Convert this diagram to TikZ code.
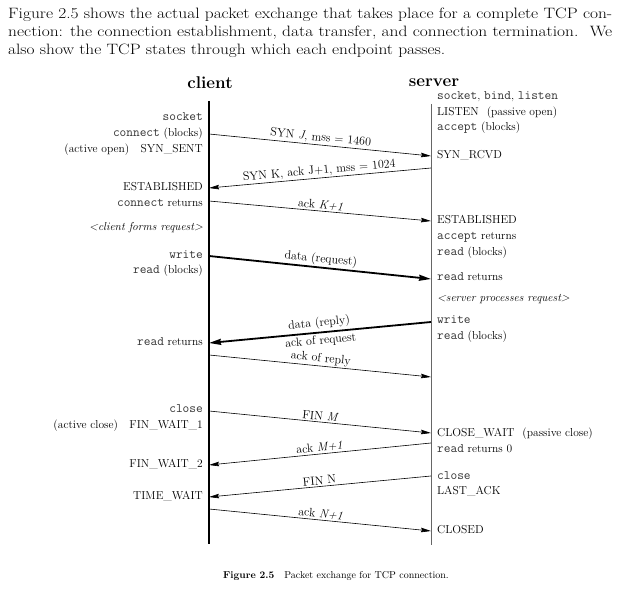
\documentclass[tikz,border=0pt]{standalone}
\usepackage{fontspec}
\usepackage{graphicx}
\usetikzlibrary{arrows.meta}
\newcommand\mono[1]{{\fontsize{13}{13}\selectfont\ttfamily\color{black!80}#1}}
\tikzset{
  para/.style={font=\fontsize{15}{18}\selectfont, inner sep=0pt, anchor=base west},
  head/.style={font=\fontsize{17}{18}\selectfont\bfseries, inner sep=0pt},
  lbl/.style={font=\fontsize{11.5}{13}\selectfont, inner sep=0pt},
  cl/.style={lbl, anchor=mid east},
  sv/.style={lbl, anchor=mid west},
  cline/.style={line width=1.4pt, black},
  sline/.style={line width=1pt, black!60},
  msg/.style={-{Stealth[length=10pt,width=4.5pt,inset=1pt]}, line width=0.6pt},
  bigmsg/.style={-{Stealth[length=12pt,width=6pt,inset=1pt]}, line width=1.8pt},
  alab/.style={font=\fontsize{12}{13}\selectfont, sloped, pos=0.5, inner sep=1.5pt},
  captext/.style={font=\fontsize{10}{12}\selectfont, inner sep=0pt}
}
\begin{document}
\begin{tikzpicture}[x=1pt,y=-1pt]
\useasboundingbox (0,0) rectangle (625,599);
% paragraph
\node[para] (p1) at (8,19) {\resizebox{604pt}{\height}{Figure 2.5 shows the actual packet exchange that takes place for a complete TCP con-}};
\node[para] (p2) at (8,37) {\resizebox{604pt}{\height}{nection: the connection establishment, data transfer, and connection termination.\hspace{0.25em} We}};
\node[para] (p3) at (8,55) {\resizebox{437pt}{\height}{also show the TCP states through which each endpoint passes.}};
% headers
\node[head] (client) at (210,83) {client};
\node[head] (server) at (434,83) {server};
% lifelines
\coordinate (ctop) at (209,101);
\coordinate (cbot) at (209,544);
\coordinate (stop) at (431,104);
\coordinate (sbot) at (431,545);
\draw[cline] (ctop) -- (cbot);
\draw[sline] (stop) -- (sbot);
% client labels
\node[cl] (c1) at (203,118) {\mono{socket}};
\node[cl] (c2) at (203,134) {\mono{connect} (blocks)};
\node[cl] (c3) at (203,150) {(active open)\hspace{1em}SYN\_SENT};
\node[cl] (c4) at (203,188) {ESTABLISHED};
\node[cl] (c5) at (203,204) {\mono{connect} returns};
\node[cl] (c6) at (203,228) {\textit{<client forms request>}};
\node[cl] (c7) at (203,256) {\mono{write}};
\node[cl] (c8) at (203,271) {\mono{read} (blocks)};
\node[cl] (c9) at (203,343) {\mono{read} returns};
\node[cl] (c10) at (203,410) {\mono{close}};
\node[cl] (c11) at (203,426) {(active close)\hspace{1em}FIN\_WAIT\_1};
\node[cl] (c12) at (203,465) {FIN\_WAIT\_2};
\node[cl] (c13) at (203,497) {TIME\_WAIT};
% server labels
\node[sv] (s1) at (437,97) {\mono{socket}, \mono{bind}, \mono{listen}};
\node[sv] (s2) at (437,113) {LISTEN\hspace{0.7em}(passive open)};
\node[sv] (s3) at (437,128) {\mono{accept} (blocks)};
\node[sv] (s4) at (437,156) {SYN\_RCVD};
\node[sv] (s5) at (437,221) {ESTABLISHED};
\node[sv] (s6) at (437,237) {\mono{accept} returns};
\node[sv] (s7) at (437,253) {\mono{read} (blocks)};
\node[sv] (s8) at (437,278) {\mono{read} returns};
\node[sv] (s9) at (437,299) {\textit{<server processes request>}};
\node[sv] (s10) at (437,321) {\mono{write}};
\node[sv] (s11) at (437,337) {\mono{read} (blocks)};
\node[sv] (s12) at (437,434) {CLOSE\_WAIT\hspace{0.7em}(passive close)};
\node[sv] (s13) at (437,450) {\mono{read} returns 0};
\node[sv] (s14) at (437,477) {\mono{close}};
\node[sv] (s15) at (437,492) {LAST\_ACK};
\node[sv] (s16) at (437,531) {CLOSED};
% message end points
\coordinate (a1) at (209,134); \coordinate (b1) at (431,156);
\coordinate (a2) at (431,168); \coordinate (b2) at (209,188);
\coordinate (a3) at (209,201); \coordinate (b3) at (431,221);
\coordinate (a4) at (209,256); \coordinate (b4) at (431,279);
\coordinate (a5) at (431,322); \coordinate (b5) at (209,343);
\coordinate (a6) at (209,355); \coordinate (b6) at (431,377);
\coordinate (a7) at (209,411); \coordinate (b7) at (431,433);
\coordinate (a8) at (431,443); \coordinate (b8) at (209,465);
\coordinate (a9) at (431,476); \coordinate (b9) at (209,497);
\coordinate (a10) at (209,509); \coordinate (b10) at (431,531);
% messages
\draw[msg] (a1) -- node[alab, above] (m1) {SYN \textit{J}, mss = 1460} (b1);
\draw[msg] (a2) -- node[alab, above] (m2) {SYN K, ack J+1, mss = 1024} (b2);
\draw[msg] (a3) -- node[alab, above] (m3) {ack \textit{K+1}} (b3);
\draw[bigmsg] (a4) -- node[alab, above] (m4) {data (request)} (b4);
\draw[bigmsg] (a5) -- node[alab, above, inner sep=2.2pt] (m5) {data (reply)} node[alab, below, inner sep=2.2pt] (m5b) {ack of request} (b5);
\draw[msg] (a6) -- node[alab, above] (m6) {ack of reply} (b6);
\draw[msg] (a7) -- node[alab, above] (m7) {FIN \textit{M}} (b7);
\draw[msg] (a8) -- node[alab, above] (m8) {ack \textit{M+1}} (b8);
\draw[msg] (a9) -- node[alab, above] (m9) {FIN N} (b9);
\draw[msg] (a10) -- node[alab, above] (m10) {ack \textit{N+1}} (b10);
% caption
\node[captext] (caption) at (336,576) {\textbf{Figure 2.5}\hspace{1em}Packet exchange for TCP connection.};
\end{tikzpicture}
\end{document}
